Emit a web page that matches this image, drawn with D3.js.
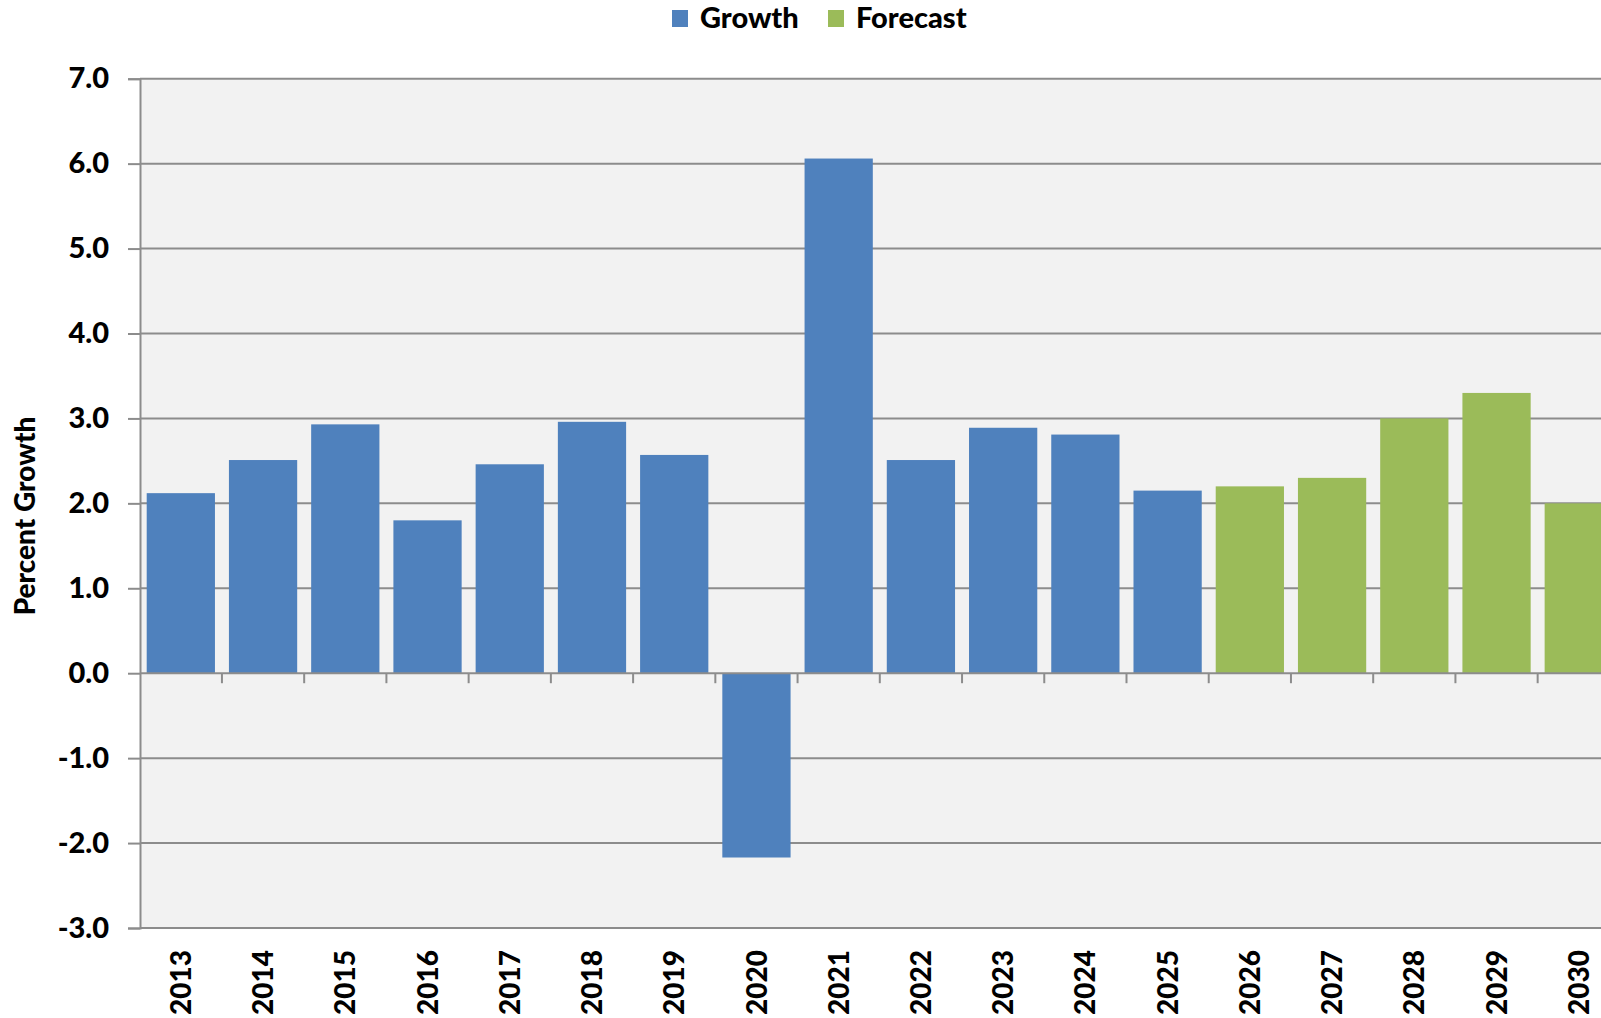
<!DOCTYPE html>
<html>
<head>
<meta charset="utf-8">
<script src="https://cdn.jsdelivr.net/npm/d3@7"></script>
<style>
  html, body { margin: 0; padding: 0; background: #ffffff; }
  svg { display: block; }
  text { font-family: Lato, "Open Sans", sans-serif; font-weight: 900; fill: #000; }
</style>
</head>
<body>
<svg id="chart" width="1601" height="1018"></svg>
<script>
// Annual growth, actual and forecast (percent)
const years = ["2013","2014","2015","2016","2017","2018","2019","2020","2021",
               "2022","2023","2024","2025","2026","2027","2028","2029","2030"];
const growthYears = ["2013","2014","2015","2016","2017","2018","2019","2020","2021",
                     "2022","2023","2024","2025"];
const growthValues = [2.12, 2.51, 2.93, 1.80, 2.46, 2.96, 2.57, -2.17, 6.06,
                      2.51, 2.89, 2.81, 2.15];
const forecastYears = ["2026","2027","2028","2029","2030"];
const forecastValues = [2.2, 2.3, 3.0, 3.3, 2.0];
const yTicks = [-3, -2, -1, 0, 1, 2, 3, 4, 5, 6, 7];
const seriesNames = ["Growth", "Forecast"];
const seriesColors = ["#4f81bd", "#9bbb59"];

const svg = d3.select("#chart");
const plot = { left: 140, right: 1619.6, top: 78.7, bottom: 928 };

const x = d3.scaleBand()
  .domain(years)
  .range([plot.left, plot.right])
  .paddingInner(0.17)
  .paddingOuter(0.0815);

const y = d3.scaleLinear()
  .domain([-3, 7])
  .range([plot.bottom, plot.top]);

const gridColor = "#8c8c8c";

// plot area background
svg.append("rect")
  .attr("x", plot.left).attr("y", plot.top)
  .attr("width", plot.right - plot.left)
  .attr("height", plot.bottom - plot.top)
  .attr("fill", "#f2f2f2");

// horizontal gridlines
svg.append("g")
  .selectAll("line")
  .data(yTicks.filter(d => d !== 0))
  .join("line")
  .attr("x1", plot.left).attr("x2", plot.right)
  .attr("y1", d => y(d)).attr("y2", d => y(d))
  .attr("stroke", gridColor).attr("stroke-width", 2);

// bars
const rows = growthYears.map((k, i) => ({ year: k, value: growthValues[i], s: 0 }))
  .concat(forecastYears.map((k, i) => ({ year: k, value: forecastValues[i], s: 1 })));

svg.append("g")
  .selectAll("rect")
  .data(rows)
  .join("rect")
  .attr("x", d => x(d.year))
  .attr("width", x.bandwidth())
  .attr("y", d => y(Math.max(0, d.value)))
  .attr("height", d => Math.abs(y(d.value) - y(0)))
  .attr("fill", d => seriesColors[d.s]);

// y axis
const yAxis = d3.axisLeft(y)
  .tickValues(yTicks)
  .tickSize(12)
  .tickPadding(19)
  .tickFormat(d => d.toFixed(1));

const gy = svg.append("g")
  .attr("transform", `translate(${plot.left},0)`)
  .call(yAxis);
gy.select(".domain").attr("stroke", gridColor).attr("stroke-width", 2);
gy.selectAll(".tick line").attr("stroke", gridColor).attr("stroke-width", 2);
gy.selectAll(".tick text")
  .attr("font-size", 29)
  .attr("font-family", "Lato, sans-serif")
  .attr("font-weight", 900)
  .attr("fill", "#000");

// category axis along zero with ticks between categories
const step = x.step();
const boundaries = years.slice(1).map(k => x(k) - step * x.paddingInner() / 2);
const gx = svg.append("g");
gx.append("line")
  .attr("x1", plot.left).attr("x2", plot.right)
  .attr("y1", y(0)).attr("y2", y(0))
  .attr("stroke", gridColor).attr("stroke-width", 2);
gx.selectAll("line.tk")
  .data(boundaries)
  .join("line")
  .attr("class", "tk")
  .attr("x1", d => d).attr("x2", d => d)
  .attr("y1", y(0)).attr("y2", y(0) + 10)
  .attr("stroke", gridColor).attr("stroke-width", 2);

// year labels below the plot, rotated
svg.append("g")
  .selectAll("text")
  .data(years)
  .join("text")
  .attr("transform", d => `translate(${x(d) + x.bandwidth() / 2},${plot.bottom + 22}) rotate(-90)`)
  .attr("text-anchor", "end")
  .attr("dy", "0.36em")
  .attr("font-size", 28)
  .text(d => d);

// y axis title
svg.append("text")
  .attr("transform", "translate(25,516) rotate(-90)")
  .attr("text-anchor", "middle")
  .attr("dy", "0.36em")
  .attr("font-size", 28)
  .text("Percent Growth");

// legend
const legendX = [672, 828];
const lg = svg.append("g");
seriesNames.forEach((name, i) => {
  lg.append("rect")
    .attr("x", legendX[i]).attr("y", 10)
    .attr("width", 16).attr("height", 17)
    .attr("fill", seriesColors[i]);
  lg.append("text")
    .attr("x", legendX[i] + 28).attr("y", 28)
    .attr("font-size", 29)
    .text(name);
});
</script>
</body>
</html>
